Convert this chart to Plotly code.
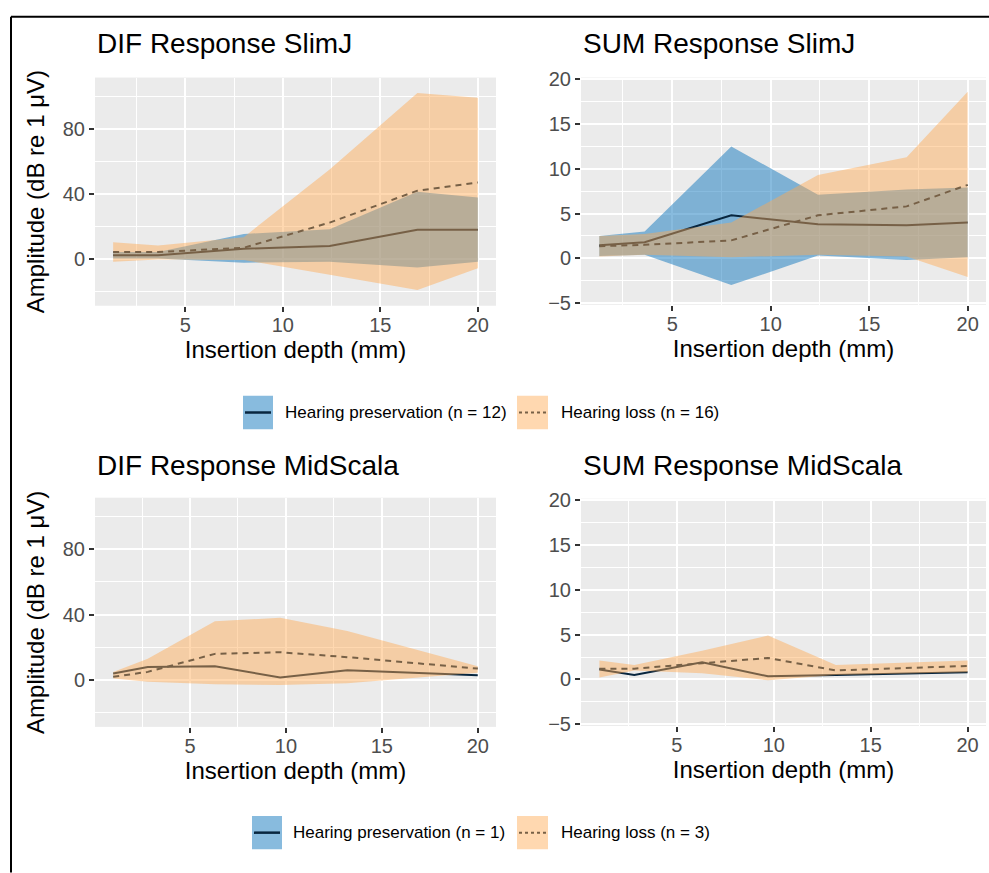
import plotly.graph_objects as go

# ---------------- data ----------------
x_slimj = [1.3, 3.6, 8.0, 12.4, 16.9, 20.0]
x_mid = [1.0, 2.8, 6.3, 9.7, 13.2, 20.0]

# DIF SlimJ
dif_slimj_hp_mean = [2.4, 2.4, 6.4, 8.0, 18.0, 18.0]
dif_slimj_hp_lo = [0.4, 0.4, -2.2, -1.6, -5.2, -1.6]
dif_slimj_hp_hi = [4.4, 4.4, 15.4, 18.4, 41.4, 37.8]
dif_slimj_hl_mean = [4.4, 4.4, 7.0, 22.4, 42.0, 47.0]
dif_slimj_hl_lo = [-1.6, -0.2, -0.5, -9.6, -19.0, -5.6]
dif_slimj_hl_hi = [10.4, 8.4, 13.5, 55.0, 102.0, 99.0]

# SUM SlimJ
sum_slimj_hp_mean = [1.45, 1.8, 4.8, 3.8, 3.7, 4.0]
sum_slimj_hp_lo = [0.25, 0.4, -3.0, 0.3, -0.2, 0.1]
sum_slimj_hp_hi = [2.5, 3.0, 12.5, 7.1, 7.7, 7.9]
sum_slimj_hl_mean = [1.35, 1.5, 2.0, 4.8, 5.8, 8.2]
sum_slimj_hl_lo = [0.2, 0.4, 0.1, 0.4, 0.2, -2.1]
sum_slimj_hl_hi = [2.5, 2.7, 4.0, 9.3, 11.3, 18.6]

# DIF MidScala (hearing preservation n = 1 -> no ribbon)
dif_mid_hp_mean = [4.0, 8.0, 8.4, 1.6, 6.0, 3.0]
dif_mid_hl_mean = [2.0, 5.0, 16.0, 17.0, 14.0, 7.0]
dif_mid_hl_lo = [1.0, -1.0, -2.6, -3.0, -2.0, 4.5]
dif_mid_hl_hi = [5.0, 13.0, 36.0, 38.0, 30.0, 8.5]

# SUM MidScala
sum_mid_hp_mean = [1.1, 0.5, 1.9, 0.35, 0.5, 0.8]
sum_mid_hl_mean = [1.2, 1.2, 1.8, 2.4, 1.0, 1.5]
sum_mid_hl_lo = [0.2, 1.0, 0.7, -0.1, 0.5, 0.8]
sum_mid_hl_hi = [2.1, 1.6, 3.2, 4.9, 1.6, 2.1]

titles = ["DIF Response SlimJ", "SUM Response SlimJ",
          "DIF Response MidScala", "SUM Response MidScala"]
legend_top = ["Hearing preservation (n = 12)", "Hearing loss (n = 16)"]
legend_bottom = ["Hearing preservation (n = 1)", "Hearing loss (n = 3)"]
x_title = "Insertion depth (mm)"
y_title = "Amplitude (dB re 1 μV)"

dif_ticks = [0, 40, 80]
dif_minor = [-20, 20, 60, 100]
sum_ticks = [-5, 0, 5, 10, 15, 20]
sum_minor = [-2.5, 2.5, 7.5, 12.5, 17.5]
x_ticks = [5, 10, 15, 20]
x_minor = [2.5, 7.5, 12.5, 17.5]

# ---------------- style ----------------
W, H = 989, 873
FONT = "Liberation Sans, Arial, Helvetica, sans-serif"
BLUE_FILL = "rgba(17,120,190,0.5)"
ORANGE_FILL = "rgba(255,168,80,0.45)"
LINE_COL = "#08263F"


def px(p):
    return p / W


def py(p):
    return 1 - p / H


fig = go.Figure()


def ribbon(xs, lo, hi, color, axis_idx):
    sfx = "" if axis_idx == 1 else str(axis_idx)
    fig.add_trace(go.Scatter(
        x=list(xs) + list(xs)[::-1], y=list(hi) + list(lo)[::-1],
        fill="toself", fillcolor=color, mode="lines", line=dict(width=0),
        showlegend=False, hoverinfo="skip", xaxis="x" + sfx, yaxis="y" + sfx))


def mean_line(xs, ys, dash, axis_idx):
    sfx = "" if axis_idx == 1 else str(axis_idx)
    fig.add_trace(go.Scatter(
        x=xs, y=ys, mode="lines",
        line=dict(color=LINE_COL, width=2, dash=dash),
        showlegend=False, xaxis="x" + sfx, yaxis="y" + sfx))


DASH = "6px,5px"

# panel 1: DIF SlimJ
ribbon(x_slimj, dif_slimj_hp_lo, dif_slimj_hp_hi, BLUE_FILL, 1)
mean_line(x_slimj, dif_slimj_hp_mean, "solid", 1)
mean_line(x_slimj, dif_slimj_hl_mean, DASH, 1)
ribbon(x_slimj, dif_slimj_hl_lo, dif_slimj_hl_hi, ORANGE_FILL, 1)

# panel 2: SUM SlimJ
ribbon(x_slimj, sum_slimj_hp_lo, sum_slimj_hp_hi, BLUE_FILL, 2)
mean_line(x_slimj, sum_slimj_hp_mean, "solid", 2)
mean_line(x_slimj, sum_slimj_hl_mean, DASH, 2)
ribbon(x_slimj, sum_slimj_hl_lo, sum_slimj_hl_hi, ORANGE_FILL, 2)

# panel 3: DIF MidScala
mean_line(x_mid, dif_mid_hp_mean, "solid", 3)
mean_line(x_mid, dif_mid_hl_mean, DASH, 3)
ribbon(x_mid, dif_mid_hl_lo, dif_mid_hl_hi, ORANGE_FILL, 3)

# panel 4: SUM MidScala
mean_line(x_mid, sum_mid_hp_mean, "solid", 4)
mean_line(x_mid, sum_mid_hl_mean, DASH, 4)
ribbon(x_mid, sum_mid_hl_lo, sum_mid_hl_hi, ORANGE_FILL, 4)

panels = {
    1: dict(x=(95, 496), y=(70, 303), yr=[-28.6, 111.4], yt=dif_ticks, ym=dif_minor, xr=[0.37, 20.93]),
    2: dict(x=(581, 986), y=(70, 302), yr=[-5.2, 20.2], yt=sum_ticks, ym=sum_minor, xr=[0.37, 20.93]),
    3: dict(x=(95, 496), y=(499, 733), yr=[-28.6, 111.4], yt=dif_ticks, ym=dif_minor, xr=[0.05, 20.95]),
    4: dict(x=(581, 986), y=(500, 732), yr=[-5.2, 20.2], yt=sum_ticks, ym=sum_minor, xr=[0.05, 20.95]),
}

tickfont = dict(family=FONT, size=20, color="#4D4D4D")
layout = {}
for i, p in panels.items():
    sfx = "" if i == 1 else str(i)
    layout["xaxis" + sfx] = dict(
        domain=[px(p["x"][0]), px(p["x"][1])], range=p["xr"], anchor="y" + sfx,
        tickmode="array", tickvals=x_ticks, ticks="outside", ticklen=5, tickwidth=2,
        tickcolor="#333333", tickfont=tickfont, showgrid=True, gridcolor="white",
        gridwidth=2, zeroline=False, showline=False, ticklabelstandoff=-4,
        minor=dict(tickmode="array", tickvals=x_minor, showgrid=True,
                   gridcolor="white", gridwidth=1),
        title=dict(text=x_title, font=dict(family=FONT, size=24, color="black"), standoff=2),
    )
    layout["yaxis" + sfx] = dict(
        domain=[py(p["y"][1]), py(p["y"][0])], range=p["yr"], anchor="x" + sfx,
        tickmode="array", tickvals=p["yt"], ticks="outside", ticklen=5, tickwidth=2,
        tickcolor="#333333", tickfont=tickfont, showgrid=True, gridcolor="white",
        gridwidth=2, zeroline=False, showline=False,
        minor=dict(tickmode="array", tickvals=p["ym"], showgrid=True,
                   gridcolor="white", gridwidth=1),
    )
    if i in (1, 3):
        layout["yaxis" + sfx]["title"] = dict(
            text=y_title, font=dict(family=FONT, size=24, color="black"), standoff=11)

annotations = []
title_pos = [(95, 35), (581, 35), (95, 466), (581, 466)]
for t, (tx, ty) in zip(titles, title_pos):
    annotations.append(dict(text=t, x=px(tx), y=py(ty), xref="paper", yref="paper",
                            xanchor="left", yanchor="middle", showarrow=False,
                            font=dict(family=FONT, size=28, color="black")))

shapes = []
# outer border
shapes.append(dict(type="line", xref="paper", yref="paper", x0=px(11), x1=1.01,
                   y0=py(8), y1=py(8), line=dict(color="black", width=2)))
shapes.append(dict(type="line", xref="paper", yref="paper", x0=px(11), x1=px(11),
                   y0=py(8), y1=-0.01, line=dict(color="black", width=2)))


def legend_row(labels, blue_box_x, text1_x, cy):
    top, bot = cy - 17, cy + 17
    # blue key: fill then solid line
    shapes.append(dict(type="rect", xref="paper", yref="paper",
                       x0=px(blue_box_x), x1=px(blue_box_x + 30), y0=py(bot), y1=py(top),
                       fillcolor=BLUE_FILL, line=dict(width=0)))
    shapes.append(dict(type="line", xref="paper", yref="paper",
                       x0=px(blue_box_x + 2), x1=px(blue_box_x + 28), y0=py(cy), y1=py(cy),
                       line=dict(color=LINE_COL, width=2.5)))
    # orange key: dashed line, then fill on top
    ox = 517
    shapes.append(dict(type="line", xref="paper", yref="paper",
                       x0=px(ox + 2), x1=px(ox + 29), y0=py(cy), y1=py(cy),
                       line=dict(color=LINE_COL, width=2, dash="3px,3px")))
    shapes.append(dict(type="rect", xref="paper", yref="paper",
                       x0=px(ox), x1=px(ox + 31), y0=py(bot), y1=py(top),
                       fillcolor=ORANGE_FILL, line=dict(width=0)))
    annotations.append(dict(text=labels[0], x=px(text1_x), y=py(cy), xref="paper", yref="paper",
                            xanchor="left", yanchor="middle", showarrow=False,
                            font=dict(family=FONT, size=17, color="black")))
    annotations.append(dict(text=labels[1], x=px(559), y=py(cy), xref="paper", yref="paper",
                            xanchor="left", yanchor="middle", showarrow=False,
                            font=dict(family=FONT, size=17, color="black")))


legend_row(legend_top, 243, 283, 412)
legend_row(legend_bottom, 252, 291, 841)

fig.update_layout(
    width=W, height=H, margin=dict(l=0, r=0, t=0, b=0),
    paper_bgcolor="white", plot_bgcolor="#EBEBEB",
    font=dict(family=FONT), showlegend=False,
    annotations=annotations, shapes=shapes, **layout,
)

fig.write_html("out.html")
